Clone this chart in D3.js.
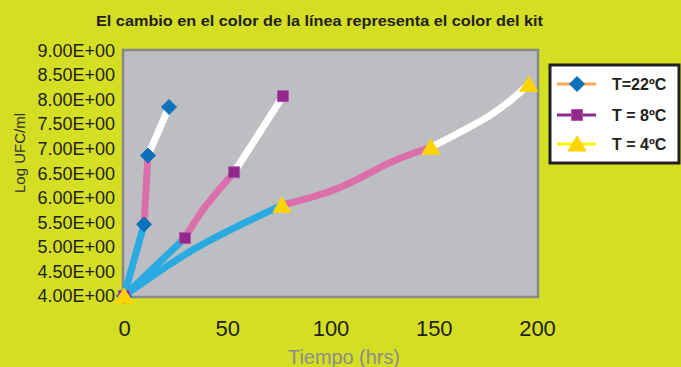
<!DOCTYPE html>
<html>
<head>
<meta charset="utf-8">
<script src="https://cdn.jsdelivr.net/npm/d3@7"></script>
<style>
  body { margin: 0; background: #d4de22; }
  svg { display: block; font-family: "Liberation Sans", Arial, sans-serif; }
</style>
</head>
<body>
<script>
// marked points for each temperature
var series = ["T=22ºC", "T = 8ºC", "T = 4ºC"];
var tiempo22 = [0, 9.7, 11.6, 21.8];
var log22 = [4.0, 5.46, 6.86, 7.85];
var tiempo8 = [0, 29.5, 53.3, 77.0];
var log8 = [4.0, 5.18, 6.52, 8.07];
var tiempo4 = [0, 76.5, 148.6, 196.0];
var log4 = [4.0, 5.85, 7.03, 8.31];

// extra points (no marker)
var curvaT8 = [39];
var curvaV8 = [5.8];
var curvaT4 = [35, 104, 128, 178];
var curvaV4 = [4.98, 6.2, 6.7, 7.7];

// axis ticks
var xTicks = [0, 50, 100, 150, 200];
var yTicks = [4, 4.5, 5, 5.5, 6, 6.5, 7, 7.5, 8, 8.5, 9];
var yTickLabels = ["4.00E+00", "4.50E+00", "5.00E+00", "5.50E+00", "6.00E+00", "6.50E+00",
                   "7.00E+00", "7.50E+00", "8.00E+00", "8.50E+00", "9.00E+00"];

// line colour per stage (kit colour)
var stageColors = ["#29abe2", "#dc6fab", "#ffffff"];
var legendLineColors = ["#f9a954", "#92278f", "#fff200"];

var width = 681, height = 367;

var svg = d3.select("body")
  .append("svg")
    .attr("width", width)
    .attr("height", height);

// setup x
var xMap = d3.scaleLinear().domain([0, 200]).range([124, 537]),
    xAxis = d3.axisBottom(xMap).tickValues(xTicks).tickSize(0).tickPadding(24);

// setup y
var yMap = d3.scaleLinear().domain([4, 9]).range([296, 50.5]),
    yAxis = d3.axisLeft(yMap).tickValues(yTicks).tickSize(0).tickPadding(8)
      .tickFormat(function(d, i) { return yTickLabels[i]; });

// title
svg.append("text")
    .attr("x", 319.5)
    .attr("y", 26)
    .attr("text-anchor", "middle")
    .attr("textLength", 447)
    .attr("lengthAdjust", "spacingAndGlyphs")
    .style("font-size", "15px")
    .style("font-weight", "bold")
    .style("fill", "#231f20")
    .text("El cambio en el color de la línea representa el color del kit");

// plot area
svg.append("rect")
    .attr("x", 123)
    .attr("y", 50)
    .attr("width", 415)
    .attr("height", 247)
    .style("fill", "#bdbec2")
    .style("stroke", "#87888b")
    .style("stroke-width", 2.5);

// x-axis
var gx = svg.append("g")
    .attr("transform", "translate(0,296)")
    .call(xAxis);
gx.select(".domain").remove();
gx.selectAll("text")
    .style("font-size", "22px")
    .style("font-family", "'Liberation Sans', Arial, sans-serif")
    .style("fill", "#231f20");

svg.append("text")
    .attr("x", 344)
    .attr("y", 364)
    .attr("text-anchor", "middle")
    .attr("textLength", 112)
    .attr("lengthAdjust", "spacingAndGlyphs")
    .style("font-size", "21px")
    .style("fill", "#8d8d8d")
    .text("Tiempo (hrs)");

// y-axis
var gy = svg.append("g")
    .attr("transform", "translate(123,0)")
    .call(yAxis);
gy.select(".domain").remove();
gy.selectAll("text")
    .style("font-size", "18px")
    .style("font-family", "'Liberation Sans', Arial, sans-serif")
    .style("fill", "#231f20");

svg.append("text")
    .attr("transform", "translate(25,153) rotate(-90)")
    .attr("text-anchor", "middle")
    .style("font-size", "15px")
    .style("fill", "#333333")
    .text("Log UFC/ml");

// split a series into coloured stages between its markers
function stages(tx, ty, cx, cy) {
  var all = tx.map(function(t, i) { return [t, ty[i]]; });
  cx.forEach(function(t, i) { all.push([t, cy[i]]); });
  all.sort(function(a, b) { return a[0] - b[0]; });
  var out = [];
  for (var i = 0; i < tx.length - 1; i++) {
    out.push(all.filter(function(p) { return p[0] >= tx[i] && p[0] <= tx[i + 1]; }));
  }
  return out;
}

var line = d3.line()
    .x(function(d) { return xMap(d[0]); })
    .y(function(d) { return yMap(d[1]); })
    .curve(d3.curveNatural);

var allStages = [
  stages(tiempo22, log22, [], []),
  stages(tiempo8, log8, curvaT8, curvaV8),
  stages(tiempo4, log4, curvaT4, curvaV4)
];

allStages.forEach(function(st) {
  svg.selectAll(null)
      .data(st)
    .enter().append("path")
      .attr("d", line)
      .style("fill", "none")
      .style("stroke", function(d, i) { return stageColors[i]; })
      .style("stroke-width", 7)
      .style("stroke-linecap", "butt");
});

// marker shapes
function marker(type) {
  if (type === 0) return "M0,-7.5L7.5,0L0,7.5L-7.5,0Z";
  if (type === 1) return "M-5.5,-5.5H5.5V5.5H-5.5Z";
  return "M0,-8L9,7H-9Z";
}
var markerFill = ["#0e6fba", "#92278f", "#ffd400"];
var markerStroke = ["#0e6fba", "#ad5aa6", "#ffd400"];

var pts = [
  tiempo22.map(function(t, i) { return [t, log22[i]]; }),
  tiempo8.map(function(t, i) { return [t, log8[i]]; }),
  tiempo4.map(function(t, i) { return [t, log4[i]]; })
];

pts.forEach(function(p, k) {
  svg.selectAll(null)
      .data(p)
    .enter().append("path")
      .attr("transform", function(d) { return "translate(" + xMap(d[0]) + "," + yMap(d[1]) + ")"; })
      .attr("d", marker(k))
      .style("fill", markerFill[k])
      .style("stroke", markerStroke[k])
      .style("stroke-width", 1);
});

// draw legend
svg.append("rect")
    .attr("x", 550)
    .attr("y", 65)
    .attr("width", 129)
    .attr("height", 98)
    .style("fill", "#ffffff")
    .style("stroke", "#231f20")
    .style("stroke-width", 3);

var legend = svg.selectAll(".legend")
    .data(series)
  .enter().append("g")
    .attr("class", "legend")
    .attr("transform", function(d, i) { return "translate(0," + [84, 115, 144][i] + ")"; });

legend.append("line")
    .attr("x1", 557)
    .attr("x2", 596)
    .style("stroke", function(d, i) { return legendLineColors[i]; })
    .style("stroke-width", 3);

legend.append("path")
    .attr("transform", "translate(577,0)")
    .attr("d", function(d, i) { return marker(i); })
    .style("fill", function(d, i) { return markerFill[i]; })
    .style("stroke", function(d, i) { return markerStroke[i]; });

legend.append("text")
    .attr("x", 612)
    .attr("dy", ".36em")
    .style("font-size", "16px")
    .style("font-weight", "bold")
    .style("fill", "#231f20")
    .text(function(d) { return d; });
</script>
</body>
</html>
